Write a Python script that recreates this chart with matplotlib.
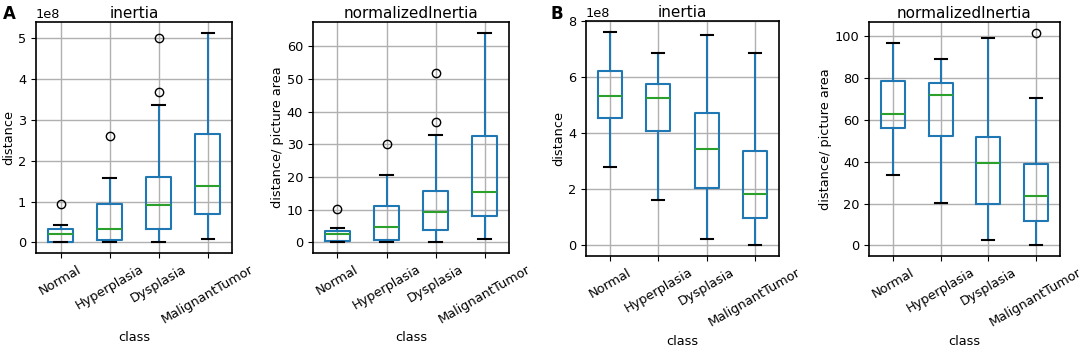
import matplotlib
matplotlib.use("Agg")
import matplotlib.pyplot as plt

categories = ["Normal", "Hyperplasia", "Dysplasia", "MalignantTumor"]

# Panel A - inertia (x1e8)
A_in_lo = [0.0, 0.0, 0.0, 0.09]
A_in_q1 = [0.02, 0.05, 0.32, 0.70]
A_in_med = [0.20, 0.33, 0.92, 1.37]
A_in_q3 = [0.33, 0.94, 1.60, 2.65]
A_in_hi = [0.42, 1.58, 3.35, 5.13]
A_in_fl = [[0.95], [2.60], [3.68, 5.00], []]

# Panel A - normalizedInertia
A_ni_lo = [0.0, 0.0, 0.0, 1.0]
A_ni_q1 = [0.3, 0.7, 3.8, 8.2]
A_ni_med = [2.5, 4.6, 9.4, 15.5]
A_ni_q3 = [3.5, 11.0, 15.8, 32.5]
A_ni_hi = [4.4, 20.5, 33.0, 64.2]
A_ni_fl = [[10.2], [30.0], [37.0, 52.0], []]

# Panel B - inertia (x1e8)
B_in_lo = [2.80, 1.63, 0.22, 0.0]
B_in_q1 = [4.55, 4.07, 2.03, 0.96]
B_in_med = [5.33, 5.26, 3.44, 1.83]
B_in_q3 = [6.23, 5.74, 4.73, 3.37]
B_in_hi = [7.61, 6.88, 7.49, 6.88]
B_in_fl = [[], [], [], []]

# Panel B - normalizedInertia
B_ni_lo = [33.7, 20.5, 2.4, 0.0]
B_ni_q1 = [56.0, 52.4, 19.8, 11.7]
B_ni_med = [62.7, 72.0, 39.5, 23.6]
B_ni_q3 = [78.6, 77.8, 52.0, 39.0]
B_ni_hi = [96.7, 89.0, 99.2, 70.5]
B_ni_fl = [[], [], [], [101.6]]


def make_stats(lo, q1, med, q3, hi, fl, scale=1.0):
    stats = []
    for i, lab in enumerate(categories):
        stats.append(dict(label=lab, whislo=lo[i] * scale, q1=q1[i] * scale,
                          med=med[i] * scale, q3=q3[i] * scale,
                          whishi=hi[i] * scale,
                          fliers=[v * scale for v in fl[i]]))
    return stats


plt.rcParams['font.family'] = ['DejaVu Sans']
plt.rcParams['font.size'] = 9.3

fig = plt.figure(figsize=(10.84, 3.46), dpi=100)

positions = [
    [0.0332, 0.269, 0.181, 0.667],
    [0.2887, 0.269, 0.181, 0.667],
    [0.5406, 0.260, 0.178, 0.679],
    [0.8017, 0.260, 0.176, 0.676],
]

panels = [
    (make_stats(A_in_lo, A_in_q1, A_in_med, A_in_q3, A_in_hi, A_in_fl, 1e8), "inertia", "distance"),
    (make_stats(A_ni_lo, A_ni_q1, A_ni_med, A_ni_q3, A_ni_hi, A_ni_fl), "normalizedInertia", "distance/ picture area"),
    (make_stats(B_in_lo, B_in_q1, B_in_med, B_in_q3, B_in_hi, B_in_fl, 1e8), "inertia", "distance"),
    (make_stats(B_ni_lo, B_ni_q1, B_ni_med, B_ni_q3, B_ni_hi, B_ni_fl), "normalizedInertia", "distance/ picture area"),
]

blue = "#1f77b4"
green = "#2ca02c"

axes = []
for pos, (stats, title, ylabel) in zip(positions, panels):
    ax = fig.add_axes(pos)
    ax.bxp(stats, widths=0.5, showfliers=True,
           boxprops=dict(color=blue, linewidth=1.5),
           whiskerprops=dict(color=blue, linewidth=1.5),
           capprops=dict(color="black", linewidth=1.5),
           medianprops=dict(color=green, linewidth=1.5),
           flierprops=dict(marker="o", markerfacecolor="none",
                           markeredgecolor="black", markersize=6))
    ax.grid(True, color="#b0b0b0", linewidth=1.0)
    ax.set_axisbelow(True)
    ax.set_title(title, fontsize=11, pad=3)
    ax.set_ylabel(ylabel, fontsize=9.3, labelpad=2)
    ax.set_xlabel("class", fontsize=9.3)
    ax.tick_params(axis="x", labelrotation=30, labelsize=9.3)
    ax.tick_params(axis="y", labelsize=9.3)
    for lab in ax.get_xticklabels():
        lab.set_ha("center")
    for sp in ax.spines.values():
        sp.set_linewidth(1.2)
    ax.yaxis.get_offset_text().set_fontsize(9.3)
    axes.append(ax)

axes[0].set_yticks([0, 1e8, 2e8, 3e8, 4e8, 5e8])
axes[1].set_yticks([0, 10, 20, 30, 40, 50, 60])
axes[2].set_yticks([0, 2e8, 4e8, 6e8, 8e8])
axes[2].set_ylim(-0.38e8, 8e8)
axes[3].set_yticks([0, 20, 40, 60, 80, 100])

fig.text(0.003, 0.985, "A", fontsize=12, fontweight="bold", va="top")
fig.text(0.508, 0.985, "B", fontsize=12, fontweight="bold", va="top")

fig.savefig("out.png", dpi=100)
